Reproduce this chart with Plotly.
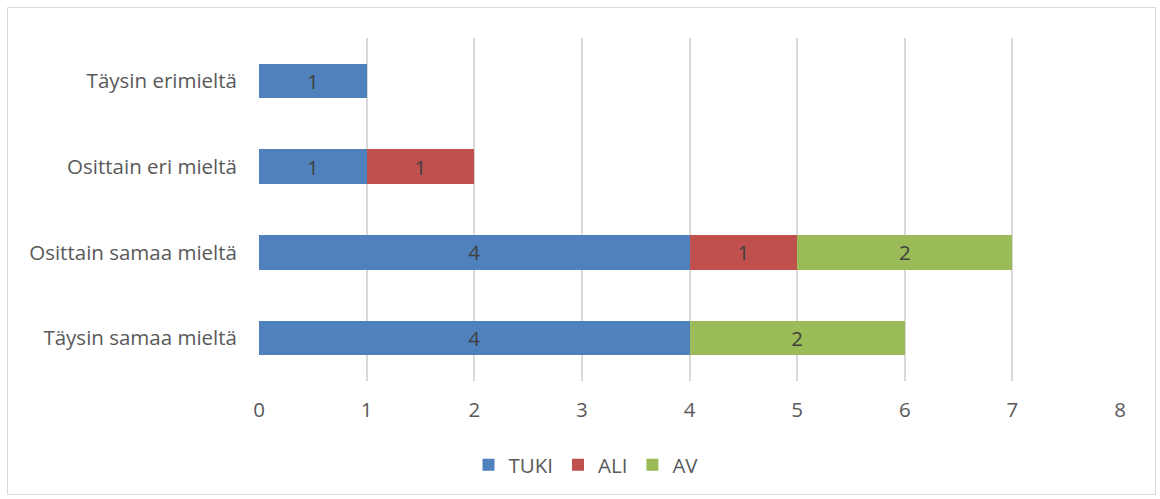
import plotly.graph_objects as go

categories = ["Täysin samaa mieltä", "Osittain samaa mieltä", "Osittain eri mieltä", "Täysin erimieltä"]
tuki = [4, 4, 1, 1]
ali = [None, 1, 1, None]
av = [2, 2, None, None]
x_ticks = [0, 1, 2, 3, 4, 5, 6, 7, 8]

series = [("TUKI", tuki, "#4f81bd"), ("ALI", ali, "#c0504d"), ("AV", av, "#9bbb59")]

W, H = 1160, 499
L, R, T, B = 259, 1120, 38, 381
FS = 20.5

fig = go.Figure()
for name, vals, col in series:
    fig.add_trace(go.Bar(
        y=categories, x=vals, name=name, orientation="h",
        marker=dict(color=col, line=dict(width=0)),
        text=[str(v) if v is not None else "" for v in vals],
        textposition="inside", insidetextanchor="middle",
        textfont=dict(color="#404040", size=FS, family="Open Sans"),
        width=0.4,
    ))

def px_x(p):
    return (p - L) / (R - L)

def px_y(p):
    return (B - p) / (B - T)

fig.add_shape(type="rect", xref="paper", yref="paper",
              x0=px_x(7.5), x1=px_x(1155.5), y0=px_y(494.5), y1=px_y(7.5),
              line=dict(color="#d9d9d9", width=1), fillcolor="rgba(0,0,0,0)", layer="below")

fig.update_layout(
    width=W, height=H,
    margin=dict(l=L, r=W - R, t=T, b=H - B),
    barmode="stack",
    plot_bgcolor="white", paper_bgcolor="white",
    font=dict(family="Open Sans", color="#595959", size=FS),
    xaxis=dict(range=[0, 8], tickvals=x_ticks, showgrid=True, gridcolor="#d9d9d9", gridwidth=1.5,
               zeroline=False, showline=False, ticks="", ticklabelstandoff=14,
               tickfont=dict(size=FS, color="#595959")),
    yaxis=dict(categoryorder="array", categoryarray=categories, showgrid=False, zeroline=False,
               showline=False, ticks="", ticklabelstandoff=21,
               tickfont=dict(size=FS, color="#595959")),
    legend=dict(orientation="h", x=px_x(586), xanchor="center", y=px_y(465), yanchor="middle",
                font=dict(size=FS, color="#595959"), traceorder="normal", itemwidth=30,
                tracegroupgap=0),
    showlegend=True,
    uniformtext=dict(mode=False),
)
fig.write_html("out.html")
